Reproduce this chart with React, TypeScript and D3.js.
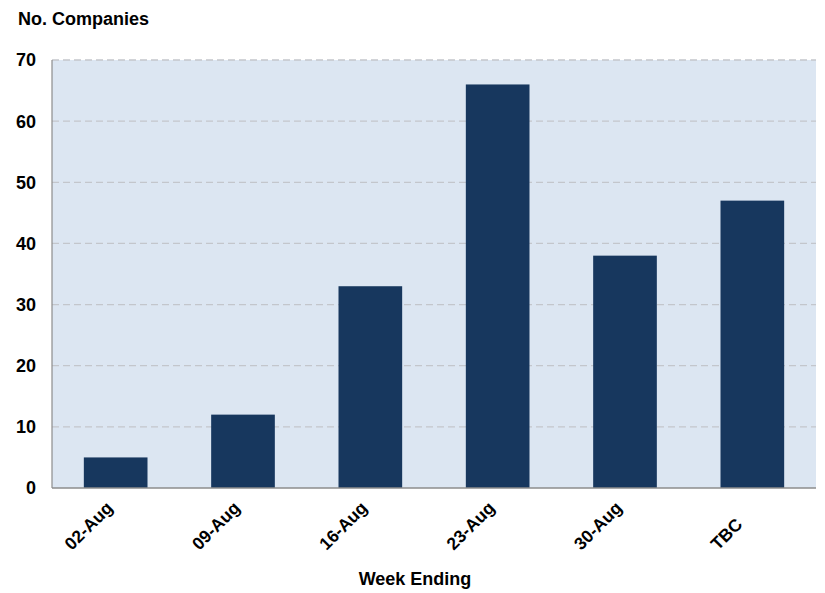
import React, { useMemo } from "react";
import * as d3 from "d3";

const categories = ["02-Aug", "09-Aug", "16-Aug", "23-Aug", "30-Aug", "TBC"];
const companies = [5, 12, 33, 66, 38, 47];
const yTicks = [0, 10, 20, 30, 40, 50, 60, 70];

const W = 825;
const H = 593;
const plot = { left: 52, right: 816, top: 60, bottom: 488 };
const font = "Liberation Sans, Arial, sans-serif";
const tickFontSize = 17.5;

// Horizontal extent of a label once rotated by -45 degrees
function useRotatedExtents(labels: string[]) {
  return useMemo(() => {
    const ctx = document.createElement("canvas").getContext("2d");
    const capH = 0.716 * tickFontSize;
    return labels.map((l) => {
      let w = l.length * tickFontSize * 0.6;
      if (ctx) {
        ctx.font = `bold ${tickFontSize}px ${font}`;
        w = ctx.measureText(l).width;
      }
      const desc = /[gjpqy]/.test(l) ? 0.21 * tickFontSize : 0;
      return { w, capH, extent: Math.SQRT1_2 * (w + capH + desc) };
    });
  }, [labels]);
}

export default function App() {
  const x = d3
    .scaleBand<string>()
    .domain(categories)
    .range([plot.left, plot.right])
    .paddingInner(0.5)
    .paddingOuter(0.25);
  const y = d3.scaleLinear().domain([0, 70]).range([plot.bottom, plot.top]);
  const extents = useRotatedExtents(categories);

  return (
    <svg
      width={W}
      height={H}
      style={{ position: "absolute", left: 0, top: 0, background: "#fff" }}
      fontFamily={font}
    >
      <rect
        x={plot.left}
        y={plot.top}
        width={plot.right - plot.left}
        height={plot.bottom - plot.top}
        fill="#dce6f2"
      />
      {yTicks
        .filter((t) => t > 0)
        .map((t) => (
          <line
            key={t}
            x1={plot.left}
            x2={plot.right}
            y1={y(t)}
            y2={y(t)}
            stroke="#c3c6cc"
            strokeWidth={1.3}
            strokeDasharray="7,4"
          />
        ))}
      {categories.map((c, i) => (
        <rect
          key={c}
          x={x(c)}
          y={y(companies[i])}
          width={x.bandwidth()}
          height={y(0) - y(companies[i])}
          fill="#17375e"
        />
      ))}
      <line x1={plot.left} x2={plot.left} y1={plot.top} y2={plot.bottom} stroke="#8c8c8c" strokeWidth={1.2} />
      <line x1={plot.left} x2={plot.right} y1={plot.bottom} y2={plot.bottom} stroke="#8c8c8c" strokeWidth={1.5} />
      {yTicks.map((t) => (
        <text
          key={t}
          x={36}
          y={y(t)}
          dy="0.36em"
          textAnchor="end"
          fontSize={18}
          fontWeight="bold"
          fill="#000"
        >
          {t}
        </text>
      ))}
      {categories.map((c, i) => {
        const cx = (x(c) as number) + x.bandwidth() / 2;
        const { extent, capH } = extents[i];
        // rotated label box: centred a little left of the bar, bottoms aligned
        const px = cx - 26 - extent / 2 + Math.SQRT1_2 * capH;
        return (
          <text
            key={c}
            transform={`translate(${px},${551}) rotate(-45)`}
            textAnchor="start"
            fontSize={tickFontSize}
            fontWeight="bold"
            fill="#000"
          >
            {c}
          </text>
        );
      })}
      <text x={18} y={25} fontSize={18} fontWeight="bold" fill="#000">
        No. Companies
      </text>
      <text
        x={415}
        y={585}
        textAnchor="middle"
        fontSize={18}
        fontWeight="bold"
        fill="#000"
      >
        Week Ending
      </text>
    </svg>
  );
}
